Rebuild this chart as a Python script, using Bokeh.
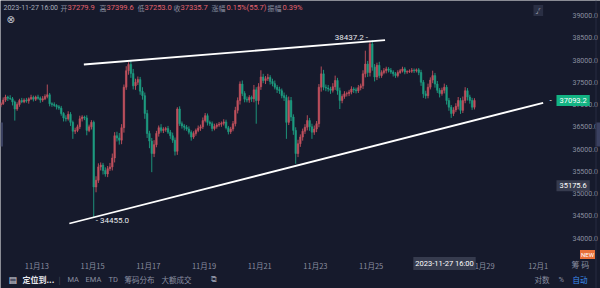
from bokeh.plotting import figure
from bokeh.models import Label, Range1d, FixedTicker, ColumnDataSource, LinearAxis, BoxAnnotation
from bokeh.embed import file_html
from bokeh.resources import INLINE

# ---------------- data ----------------
# 2-hour candles; first candle centred at 2023-11-11 17:00 (hour -31 relative to 2023-11-13 00:00)
start_hour = -31
step_hours = 2
first_open = 36990.0
closes = [
    37020, 37100, 37170, 37140, 37130, 37060, 36900, 37000, 37090, 37060,
    37100, 37080, 37130, 37160, 37120, 37170, 37140, 37100, 37130, 37180,
    37220, 37020, 37000, 36980, 36950, 36920, 36800, 36700, 36680, 36780,
    36600, 36400, 36420, 36500, 36680, 36720, 36700, 36420, 36500, 36600,
    35150, 35300, 35600, 35640, 35520, 35440, 35560, 35600, 35800, 36300,
    36250, 36200, 36480, 37390, 37760, 37900, 37700, 37420, 37500, 37560,
    37300, 37200, 36800, 36350, 36180, 35900, 36100, 36350, 36480, 36420,
    36440, 36460, 36380, 36300, 36200, 35950, 36900, 36570, 36520, 36490,
    36450, 36380, 36270, 36350, 36420, 36470, 36500, 36640, 36750, 36600,
    36570, 36460, 36510, 36540, 36560, 36580, 36610, 36480, 36390, 36450,
    36570, 36870, 37090, 37460, 37250, 37120, 37100, 37160, 37130, 37330,
    37090, 37400, 37620, 37540, 37580, 37610, 37520, 37470, 37390, 37340,
    37310, 37200, 37160, 36600, 37090, 36720, 36420, 35900, 36120, 36270,
    36400, 36490, 36640, 36500, 36380, 36450, 36570, 37390, 37690, 37390,
    37370, 37350, 37320, 37400, 37540, 37310, 37090, 37180, 37240, 37250,
    37280, 37350, 37330, 37310, 37380, 37420, 37690, 37910, 37720, 38360,
    37840, 37620, 37880, 37650, 37720, 37760, 37800, 37770, 37730, 37690,
    37650, 37720, 37760, 37800, 37730, 37740, 37750, 37770, 37760, 37780,
    37720, 37500, 37240, 37200, 37390, 37550, 37650, 37460, 37320, 37250,
    37320, 37390, 37090, 36940, 36800, 36880, 36960, 37090, 36870, 37090,
    37310, 37170, 37090, 36940, 37093.2,
]
wick_up = [
    40, 60, 50, 30, 70, 40, 30, 50, 40, 60,
    40, 50, 30, 60, 40, 30, 50, 40, 60, 50,
    230, 40, 30, 50, 30, 40, 50, 30, 60, 70,
    50, 40, 60, 50, 70, 40, 30, 60, 50, 50,
    40, 90, 80, 60, 50, 70, 60, 90, 100, 80,
    90, 110, 80, 60, 100, 52, 90, 100, 80, 70,
    60, 90, 70, 80, 60, 70, 100, 60, 50, 80,
    50, 40, 60, 50, 70, 60, 40, 60, 50, 40,
    50, 60, 40, 50, 40, 60, 50, 70, 60, 50,
    40, 50, 60, 40, 50, 40, 60, 50, 40, 50,
    60, 80, 70, 60, 80, 50, 60, 50, 40, 110,
    60, 80, 150, 70, 60, 80, 50, 60, 70, 50,
    60, 50, 70, 60, 90, 80, 60, 70, 90, 60,
    60, 70, 120, 60, 70, 80, 60, 70, 165, 90,
    60, 70, 50, 80, 110, 60, 70, 50, 60, 40,
    50, 60, 40, 50, 60, 50, 80, 300, 70, 77.2,
    90, 70, 60, 80, 50, 60, 50, 40, 50, 40,
    40, 50, 40, 50, 40, 30, 40, 50, 40, 30,
    40, 60, 50, 70, 80, 60, 110, 60, 70, 50,
    60, 80, 50, 60, 50, 60, 70, 80, 60, 90,
    80, 60, 50, 60, 50,
]
wick_dn = [
    50, 30, 40, 60, 30, 80, 260, 40, 50, 30,
    30, 40, 60, 30, 50, 40, 30, 60, 40, 30,
    40, 60, 50, 30, 60, 40, 50, 80, 60, 40,
    80, 170, 60, 40, 50, 60, 50, 110, 40, 60,
    695, 120, 60, 80, 90, 60, 70, 50, 80, 100,
    80, 100, 90, 110, 60, 90, 100, 80, 90, 60,
    80, 90, 120, 100, 160, 418, 80, 60, 70, 50,
    60, 50, 40, 70, 60, 94, 80, 50, 60, 70,
    40, 50, 80, 40, 50, 40, 60, 50, 40, 70,
    50, 60, 40, 50, 40, 60, 50, 40, 60, 50,
    50, 60, 70, 90, 60, 70, 50, 60, 70, 80,
    520, 90, 70, 60, 80, 50, 70, 60, 50, 80,
    70, 60, 80, 370, 60, 90, 100, 230, 80, 70,
    80, 60, 70, 90, 150, 60, 70, 80, 100, 70,
    70, 60, 80, 50, 70, 90, 190, 60, 50, 60,
    60, 50, 70, 60, 50, 60, 70, 80, 100, 90,
    80, 100, 70, 60, 50, 40, 60, 50, 40, 60,
    50, 40, 30, 40, 50, 40, 30, 40, 50, 40,
    60, 80, 90, 70, 60, 50, 70, 80, 60, 90,
    50, 70, 90, 80, 100, 60, 50, 70, 80, 60,
    60, 80, 70, 60, 50,
]

# x-axis ticks (hours relative to 2023-11-13 00:00) and labels
tick_hours = [0, 48, 96, 144, 192, 240, 288, 336, 384, 432]
tick_labels = ["11月13", "11月15", "11月17", "11月19", "11月21", "11月23",
               "11月25", "11月27", "11月29", "12月1"]
price_ticks = [34000, 34500, 35000, 35500, 36000, 36500, 37000, 37500, 38000, 38500, 39000]

# trend lines (hour, price)
upper_x = [40.5, 300.0]
upper_y = [37900, 38445]
lower_x = [28.0, 436.2]
lower_y = [34329, 37039]

high_mark = 38437.2
high_mark_hour = 287
low_mark = 34455.0
low_mark_hour = 49
last_price = 37093.2
cross_price = 35175.6
cross_time = "2023-11-27 16:00"

header_keys = ["开", "高", "低", "收", "涨幅", "振幅"]
header_vals = ["37279.9", "37399.6", "37253.0", "37335.7", "0.15%(55.7)", "0.39%"]

# ---------------- layout constants (pixels of the 600x288 page) ----------------
W, H = 600, 288
PLOT_RIGHT_PX = 553     # right edge of the candle area
PLOT_BOTTOM_PX = 253    # bottom edge of the candle area
PX_PER_HOUR = 1.1607
PX_PER_PRICE = 0.04453
X0 = -36.36 / PX_PER_HOUR
Y_TOP = 39000 + 15 / PX_PER_PRICE
X1 = X0 + W / PX_PER_HOUR
Y_BOT = Y_TOP - H / PX_PER_PRICE

def px_x(px):
    return X0 + px / PX_PER_HOUR

def px_y(py):
    return Y_TOP - py / PX_PER_PRICE

BG = "#161a2c"
GREY = "#8a8fa0"
RED = "#e4626d"
UP = "#c4525e"
DOWN = "#1e9f82"
NUMFONT = "Roboto"
CJK = "Noto Sans CJK SC"

# ---------------- candles ----------------
xs, highs, lows, tops, bots, colors = [], [], [], [], [], []
prev = first_open
for i, c in enumerate(closes):
    o = prev
    xs.append(start_hour + step_hours * i)
    highs.append(max(o, c) + wick_up[i])
    lows.append(min(o, c) - wick_dn[i])
    tops.append(max(o, c))
    bots.append(min(o, c))
    colors.append(UP if c >= o else DOWN)
    prev = c

src = ColumnDataSource(dict(x=xs, high=highs, low=lows, top=tops, bottom=bots, color=colors))

p = figure(width=W, height=H, output_backend="svg", toolbar_location=None,
           x_range=Range1d(X0, X1), y_range=Range1d(Y_BOT, Y_TOP),
           x_axis_location=None, y_axis_location=None,
           min_border_left=0, min_border_top=0, min_border_right=0, min_border_bottom=0,
           background_fill_color=BG, border_fill_color=BG, outline_line_color=None)
p.xgrid.grid_line_color = None
p.ygrid.grid_line_color = None

p.segment(x0="x", y0="low", x1="x", y1="high", color="color", line_width=1, alpha=0.9, source=src)
p.vbar(x="x", width=1.35, top="top", bottom="bottom", fill_color="color",
       line_color="color", line_width=0.6, alpha=0.9, source=src)

p.line(upper_x, upper_y, line_color="white", line_width=1.8)
p.line(lower_x, lower_y, line_color="white", line_width=1.8)

# axes placed at the edges of the candle area
yax = LinearAxis(fixed_location=px_x(PLOT_RIGHT_PX))
yax.ticker = FixedTicker(ticks=price_ticks)
yax.major_label_overrides = {t: f"{t:.1f}" for t in price_ticks}
yax.major_label_text_color = GREY
yax.major_label_text_font = NUMFONT
yax.major_label_text_font_size = "7px"
yax.major_label_standoff = 13
yax.major_tick_line_color = None
yax.minor_tick_line_color = None
yax.axis_line_color = None
p.add_layout(yax, "right")

xax = LinearAxis(fixed_location=px_y(PLOT_BOTTOM_PX))
xax.ticker = FixedTicker(ticks=tick_hours)
xax.major_label_overrides = dict(zip(tick_hours, tick_labels))
xax.major_label_text_color = GREY
xax.major_label_text_font = CJK
xax.major_label_text_font_size = "7.5px"
xax.major_label_standoff = 0
xax.major_tick_line_color = None
xax.minor_tick_line_color = None
xax.axis_line_color = None
p.add_layout(xax, "below")

# side tabs
p.add_layout(BoxAnnotation(left=px_x(0), right=px_x(2.5), top=px_y(122), bottom=px_y(146),
                           fill_color="#3a4060", fill_alpha=1, line_color=None))
p.add_layout(BoxAnnotation(left=px_x(595), right=px_x(600), top=px_y(122), bottom=px_y(146),
                           fill_color="#3a4060", fill_alpha=1, line_color=None))
p.add_layout(BoxAnnotation(left=px_x(595), right=px_x(596), top=px_y(0), bottom=px_y(288),
                           fill_color="#262b40", fill_alpha=1, line_color=None))

def lab(text, px, py, color=GREY, size="7.5px", font=CJK, align="left", bg=None, bold=False, pad=0):
    kw = {}
    if bg is not None:
        kw["background_fill_color"] = bg
        kw["padding"] = pad
    p.add_layout(Label(x=px_x(px), y=px_y(py), text=text, text_color=color,
                       text_font_size=size, text_font=font, text_align=align,
                       text_baseline="middle", text_font_style="bold" if bold else "normal", **kw))

# header
lab(cross_time, 3, 7, color="#a9adbb", size="7px", font=NUMFONT)
key_px = [60, 99, 137, 173, 211, 267]
val_px = [67, 106, 144, 180, 226, 282]
for k, v, kx, vx in zip(header_keys, header_vals, key_px, val_px):
    lab(k, kx, 7, color=GREY, size="7px")
    lab(v, vx, 7, color=RED, size="7.5px", font=NUMFONT)
lab("⊗", 6, 19, color="#c8cbd6", size="10px", font="DejaVu Sans")
lab("⌟⌜", 533, 10, color="#c8cbd6", size="6px", font="DejaVu Sans", bg="#2a2f44", pad=2)

# high / low markers
p.add_layout(Label(x=high_mark_hour, y=high_mark, text=f"{high_mark:.1f} -", text_color="#e8e9ee",
                   text_font_size="8px", text_font=NUMFONT, text_align="right",
                   text_baseline="middle", x_offset=-2, y_offset=3))
p.add_layout(Label(x=low_mark_hour, y=low_mark, text=f"- {low_mark:.1f}", text_color="#e8e9ee",
                   text_font_size="8px", text_font=NUMFONT, text_align="left",
                   text_baseline="middle", x_offset=2, y_offset=-3))

# price boxes on the right axis
p.add_layout(Label(x=px_x(556), y=last_price, text=f"{last_price:.1f}", text_color="white",
                   text_font_size="7.5px", text_font=NUMFONT, text_align="left", text_baseline="middle",
                   background_fill_color="#13b383", padding=3))
lab("-", 549, 15 + (39000 - last_price) * PX_PER_PRICE, color="white", size="8px", font=NUMFONT)
p.add_layout(Label(x=px_x(556), y=cross_price, text=f"{cross_price:.1f}", text_color="white",
                   text_font_size="7.5px", text_font=NUMFONT, text_align="left", text_baseline="middle",
                   background_fill_color="#363b4e", padding=3))

# crosshair time box on x axis
lab(cross_time, 444, 263, color="white", size="7.5px", font=NUMFONT, align="center", bg="#363b4e", pad=2)

# NEW badge and side text
lab("NEW", 587, 254, color="white", size="6px", font=NUMFONT, align="center", bg="#e8703a", pad=1)
lab("筹 码", 571, 264, color=GREY, size="8px")

# bottom toolbar
lab("▤", 8, 279, color="#d8dae2", size="9px", font="DejaVu Sans")
lab("定位到...", 22, 279, color="#e8e9ee", size="8px", bold=True)
lab("|", 58, 279, color="#4a4f62")
for t, x in zip(["MA", "EMA", "TD"], [67, 85, 108]):
    lab(t, x, 279, color=GREY, size="7.5px", font=NUMFONT)
lab("筹码分布", 124, 279, color=GREY)
lab("大额成交", 161, 279, color=GREY)
lab("⧉", 210, 279, color=GREY, size="8px", font="DejaVu Sans")
lab("对数", 534, 279, color=GREY)
lab("%", 558, 279, color=GREY, size="7.5px", font=NUMFONT)
lab("自动", 572, 279, color="#3d8ef0")

open("out.html", "w").write(file_html(p, INLINE))
